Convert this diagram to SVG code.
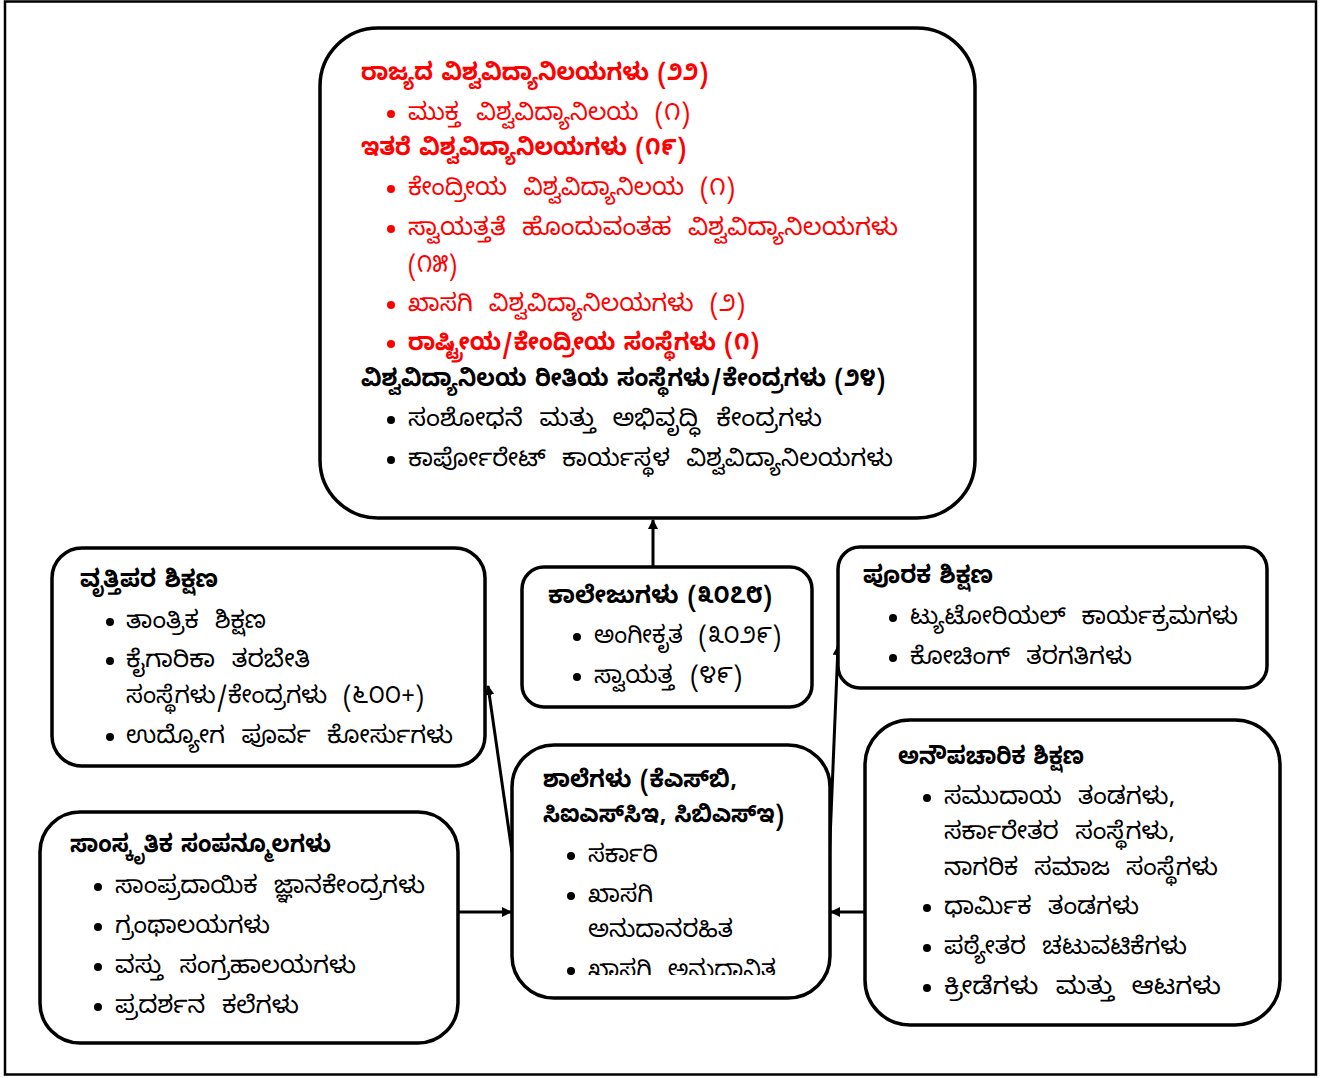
<svg xmlns="http://www.w3.org/2000/svg" width="1323" height="1078" viewBox="0 0 1323 1078">
<style>
.box{fill:#fff;stroke:#000;stroke-width:3.5}
.t{font-family:"Noto Sans Kannada","Noto Sans","Lato",sans-serif;font-size:24px;dominant-baseline:central;word-spacing:9px}
.b{font-weight:bold;word-spacing:2px}
.red{fill:#ff0000}
.blk{fill:#000}
.conn{stroke:#000;stroke-width:3;fill:none}
</style>
<defs>
<marker id="ah" markerWidth="10" markerHeight="10" refX="9" refY="5" orient="auto" markerUnits="userSpaceOnUse" viewBox="0 0 10 10">
<path d="M0,0 L10,5 L0,10 z" fill="#000"/>
</marker>
<clipPath id="clipSchool"><rect x="512" y="745" width="320" height="230"/></clipPath>
</defs>
<rect x="5" y="1.5" width="1311" height="1073" fill="#fff" stroke="#000" stroke-width="2.5"/>

<g id="connectors">
<line class="conn" x1="653" y1="566" x2="653" y2="520" marker-end="url(#ah)"/>
<line class="conn" x1="512" y1="852" x2="488" y2="686" marker-end="url(#ah)"/>
<line class="conn" x1="828" y1="888" x2="838" y2="646" marker-end="url(#ah)"/>
<line class="conn" x1="459" y1="912" x2="511" y2="912" marker-end="url(#ah)"/>
<line class="conn" x1="865" y1="912" x2="831" y2="912" marker-end="url(#ah)"/>
</g>

<g id="universities">
<rect class="box" x="320" y="28" width="655" height="490" rx="58"/>
<text class="t b red" x="361" y="77" textLength="347" lengthAdjust="spacingAndGlyphs">ರಾಜ್ಯದ ವಿಶ್ವವಿದ್ಯಾನಿಲಯಗಳು (೨೨)</text>
<circle cx="391" cy="114" r="4" fill="#ff0000"/>
<text class="t red" x="408" y="117" textLength="282" lengthAdjust="spacingAndGlyphs">ಮುಕ್ತ ವಿಶ್ವವಿದ್ಯಾನಿಲಯ (೧)</text>
<text class="t b red" x="361" y="152" textLength="325" lengthAdjust="spacingAndGlyphs">ಇತರೆ ವಿಶ್ವವಿದ್ಯಾನಿಲಯಗಳು (೧೯)</text>
<circle cx="391" cy="189" r="4" fill="#ff0000"/>
<text class="t red" x="408" y="192" textLength="327" lengthAdjust="spacingAndGlyphs">ಕೇಂದ್ರೀಯ ವಿಶ್ವವಿದ್ಯಾನಿಲಯ (೧)</text>
<circle cx="391" cy="229" r="4" fill="#ff0000"/>
<text class="t red" x="408" y="232" textLength="490" lengthAdjust="spacingAndGlyphs">ಸ್ವಾಯತ್ತತೆ ಹೊಂದುವಂತಹ ವಿಶ್ವವಿದ್ಯಾನಿಲಯಗಳು</text>
<text class="t red" x="408" y="269" textLength="49" lengthAdjust="spacingAndGlyphs">(೧೫)</text>
<circle cx="391" cy="305" r="4" fill="#ff0000"/>
<text class="t red" x="408" y="308" textLength="337" lengthAdjust="spacingAndGlyphs">ಖಾಸಗಿ ವಿಶ್ವವಿದ್ಯಾನಿಲಯಗಳು (೨)</text>
<circle cx="391" cy="344" r="4" fill="#ff0000"/>
<text class="t b red" x="408" y="347" textLength="351" lengthAdjust="spacingAndGlyphs">ರಾಷ್ಟ್ರೀಯ/ಕೇಂದ್ರೀಯ ಸಂಸ್ಥೆಗಳು (೧)</text>
<text class="t b blk" x="361" y="383" textLength="524" lengthAdjust="spacingAndGlyphs">ವಿಶ್ವವಿದ್ಯಾನಿಲಯ ರೀತಿಯ ಸಂಸ್ಥೆಗಳು/ಕೇಂದ್ರಗಳು (೨೪)</text>
<circle cx="391" cy="420" r="4"/>
<text class="t blk" x="408" y="423" textLength="414" lengthAdjust="spacingAndGlyphs">ಸಂಶೋಧನೆ ಮತ್ತು ಅಭಿವೃದ್ಧಿ ಕೇಂದ್ರಗಳು</text>
<circle cx="391" cy="460" r="4"/>
<text class="t blk" x="408" y="463" textLength="485" lengthAdjust="spacingAndGlyphs">ಕಾರ್ಪೋರೇಟ್ ಕಾರ್ಯಸ್ಥಳ ವಿಶ್ವವಿದ್ಯಾನಿಲಯಗಳು</text>
</g>

<g id="vocational">
<rect class="box" x="52" y="548" width="433" height="218" rx="30"/>
<text class="t b blk" x="80" y="584" textLength="138" lengthAdjust="spacingAndGlyphs">ವೃತ್ತಿಪರ ಶಿಕ್ಷಣ</text>
<circle cx="110" cy="622" r="4"/>
<text class="t blk" x="126" y="625" textLength="140" lengthAdjust="spacingAndGlyphs">ತಾಂತ್ರಿಕ ಶಿಕ್ಷಣ</text>
<circle cx="110" cy="661" r="4"/>
<text class="t blk" x="126" y="664" textLength="184" lengthAdjust="spacingAndGlyphs">ಕೈಗಾರಿಕಾ ತರಬೇತಿ</text>
<text class="t blk" x="126" y="700" textLength="298" lengthAdjust="spacingAndGlyphs">ಸಂಸ್ಥೆಗಳು/ಕೇಂದ್ರಗಳು (೬೦೦+)</text>
<circle cx="110" cy="737" r="4"/>
<text class="t blk" x="126" y="740" textLength="327" lengthAdjust="spacingAndGlyphs">ಉದ್ಯೋಗ ಪೂರ್ವ ಕೋರ್ಸುಗಳು</text>
</g>

<g id="colleges">
<rect class="box" x="522" y="567" width="290" height="140" rx="22"/>
<text class="t b blk" x="548" y="600" textLength="224" lengthAdjust="spacingAndGlyphs">ಕಾಲೇಜುಗಳು (೩೦೭೮)</text>
<circle cx="577" cy="637" r="4"/>
<text class="t blk" x="594" y="640" textLength="187" lengthAdjust="spacingAndGlyphs">ಅಂಗೀಕೃತ (೩೦೨೯)</text>
<circle cx="577" cy="677" r="4"/>
<text class="t blk" x="594" y="680" textLength="148" lengthAdjust="spacingAndGlyphs">ಸ್ವಾಯತ್ತ (೪೯)</text>
</g>

<g id="supplementary">
<rect class="box" x="838" y="547" width="429" height="141" rx="22"/>
<text class="t b blk" x="863" y="580" textLength="130" lengthAdjust="spacingAndGlyphs">ಪೂರಕ ಶಿಕ್ಷಣ</text>
<circle cx="893" cy="618" r="4"/>
<text class="t blk" x="910" y="621" textLength="328" lengthAdjust="spacingAndGlyphs">ಟ್ಯುಟೋರಿಯಲ್ ಕಾರ್ಯಕ್ರಮಗಳು</text>
<circle cx="893" cy="658" r="4"/>
<text class="t blk" x="910" y="661" textLength="222" lengthAdjust="spacingAndGlyphs">ಕೋಚಿಂಗ್ ತರಗತಿಗಳು</text>
</g>

<g id="informal">
<rect class="box" x="865" y="720" width="415" height="305" rx="45"/>
<text class="t b blk" x="898" y="761" textLength="186" lengthAdjust="spacingAndGlyphs">ಅನೌಪಚಾರಿಕ ಶಿಕ್ಷಣ</text>
<circle cx="927" cy="798" r="4"/>
<text class="t blk" x="944" y="801" textLength="231" lengthAdjust="spacingAndGlyphs">ಸಮುದಾಯ ತಂಡಗಳು,</text>
<text class="t blk" x="944" y="836" textLength="231" lengthAdjust="spacingAndGlyphs">ಸರ್ಕಾರೇತರ ಸಂಸ್ಥೆಗಳು,</text>
<text class="t blk" x="944" y="872" textLength="274" lengthAdjust="spacingAndGlyphs">ನಾಗರಿಕ ಸಮಾಜ ಸಂಸ್ಥೆಗಳು</text>
<circle cx="927" cy="908" r="4"/>
<text class="t blk" x="944" y="911" textLength="195" lengthAdjust="spacingAndGlyphs">ಧಾರ್ಮಿಕ ತಂಡಗಳು</text>
<circle cx="927" cy="948" r="4"/>
<text class="t blk" x="944" y="951" textLength="243" lengthAdjust="spacingAndGlyphs">ಪಠ್ಯೇತರ ಚಟುವಟಿಕೆಗಳು</text>
<circle cx="927" cy="988" r="4"/>
<text class="t blk" x="944" y="991" textLength="277" lengthAdjust="spacingAndGlyphs">ಕ್ರೀಡೆಗಳು ಮತ್ತು ಆಟಗಳು</text>
</g>

<g id="schools">
<rect class="box" x="512" y="745" width="318" height="253" rx="42"/>
<text class="t b blk" x="543" y="784" textLength="194" lengthAdjust="spacingAndGlyphs">ಶಾಲೆಗಳು (ಕೆಎಸ್‌ಬಿ,</text>
<text class="t b blk" x="543" y="819" textLength="241" lengthAdjust="spacingAndGlyphs">ಸಿಐಎಸ್‌ಸಿಇ, ಸಿಬಿಎಸ್‌ಇ)</text>
<circle cx="571" cy="856" r="4"/>
<text class="t blk" x="588" y="859" textLength="70" lengthAdjust="spacingAndGlyphs">ಸರ್ಕಾರಿ</text>
<circle cx="571" cy="896" r="4"/>
<text class="t blk" x="588" y="899" textLength="65" lengthAdjust="spacingAndGlyphs">ಖಾಸಗಿ</text>
<text class="t blk" x="588" y="934" textLength="145" lengthAdjust="spacingAndGlyphs">ಅನುದಾನರಹಿತ</text>
<circle cx="571" cy="971" r="4"/>
<g clip-path="url(#clipSchool)">
<text class="t blk" x="588" y="974" textLength="188" lengthAdjust="spacingAndGlyphs">ಖಾಸಗಿ ಅನುದಾನಿತ</text>
</g>
</g>

<g id="cultural">
<rect class="box" x="40" y="812" width="418" height="231" rx="40"/>
<text class="t b blk" x="70" y="849" textLength="261" lengthAdjust="spacingAndGlyphs">ಸಾಂಸ್ಕೃತಿಕ ಸಂಪನ್ಮೂಲಗಳು</text>
<circle cx="98" cy="887" r="4"/>
<text class="t blk" x="115" y="890" textLength="310" lengthAdjust="spacingAndGlyphs">ಸಾಂಪ್ರದಾಯಿಕ ಜ್ಞಾನಕೇಂದ್ರಗಳು</text>
<circle cx="98" cy="927" r="4"/>
<text class="t blk" x="115" y="930" textLength="155" lengthAdjust="spacingAndGlyphs">ಗ್ರಂಥಾಲಯಗಳು</text>
<circle cx="98" cy="967" r="4"/>
<text class="t blk" x="115" y="970" textLength="241" lengthAdjust="spacingAndGlyphs">ವಸ್ತು ಸಂಗ್ರಹಾಲಯಗಳು</text>
<circle cx="98" cy="1007" r="4"/>
<text class="t blk" x="115" y="1010" textLength="184" lengthAdjust="spacingAndGlyphs">ಪ್ರದರ್ಶನ ಕಲೆಗಳು</text>
</g>
</svg>
